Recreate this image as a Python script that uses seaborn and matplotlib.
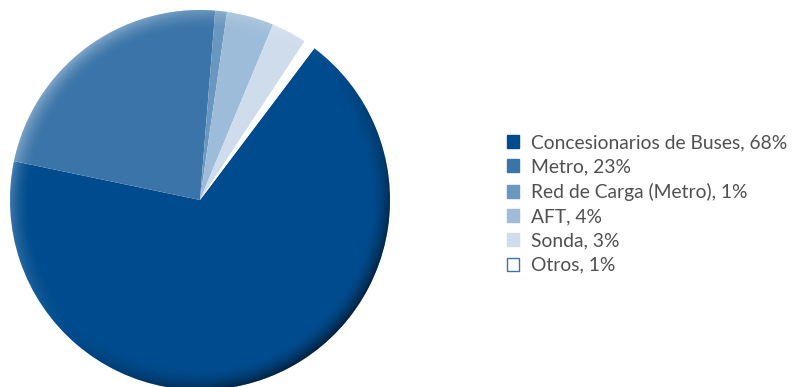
import numpy as np
import matplotlib
matplotlib.use("Agg")
import matplotlib.pyplot as plt
import seaborn as sns
from matplotlib.patches import Patch, Circle

categories = ["Concesionarios de Buses", "Metro", "Red de Carga (Metro)", "AFT", "Sonda", "Otros"]
values = [68, 23, 1, 4, 3, 1]
colors = ["#004b8d", "#3a74a8", "#6a97bf", "#9dbcd9", "#cfdceb", "#ffffff"]
legend_labels = [f"{c}, {v}%" for c, v in zip(categories, values)]

sns.set_theme(style="white")
plt.rcParams["font.family"] = ["Lato", "DejaVu Sans"]

W, H = 793, 387
fig = plt.figure(figsize=(W / 100, H / 100), dpi=100)
ax = fig.add_axes([10 / W, -3 / H, 380 / W, 380 / H])

wedges, _ = ax.pie(values, colors=colors, startangle=53, counterclock=False,
                   radius=1.0, wedgeprops=dict(linewidth=0))
ax.set_xlim(-1, 1)
ax.set_ylim(-1, 1)
ax.set_aspect("equal")
ax.axis("off")

# rim shading overlay (lighter top-left, darker bottom-right)
n = 600
xs = np.linspace(-1, 1, n)
X, Y = np.meshgrid(xs, xs)
R = np.sqrt(X ** 2 + Y ** 2) + 1e-9
rim = np.clip((R - 0.89) / 0.11, 0, 1) ** 1.8
d = (-X + Y) / np.sqrt(2) / R
img = np.zeros((n, n, 4))
light = np.clip(d, 0, 1)
dark = np.clip(-d, 0, 1)
img[..., :3] = np.where(light[..., None] > 0, 1.0, 0.0)
img[..., 3] = rim * (0.35 * light + 0.6 * dark)
im = ax.imshow(img, extent=(-1, 1, -1, 1), origin="lower", zorder=5, interpolation="bilinear")
clip = Circle((0, 0), 1.0, transform=ax.transData)
im.set_clip_path(clip)

handles = [Patch(facecolor=c, edgecolor=(c if c != "#ffffff" else "#3a74a8"), linewidth=1.0)
           for c in colors]
leg = fig.legend(handles, legend_labels, loc="center left",
                 bbox_to_anchor=(499 / W, (H - 204) / H), frameon=False,
                 fontsize=13.9, handlelength=0.66, handleheight=0.66,
                 handletextpad=0.58, labelspacing=0.38, borderaxespad=0)
for t in leg.get_texts():
    t.set_color("#505050")

fig.savefig("out.png", dpi=100)
